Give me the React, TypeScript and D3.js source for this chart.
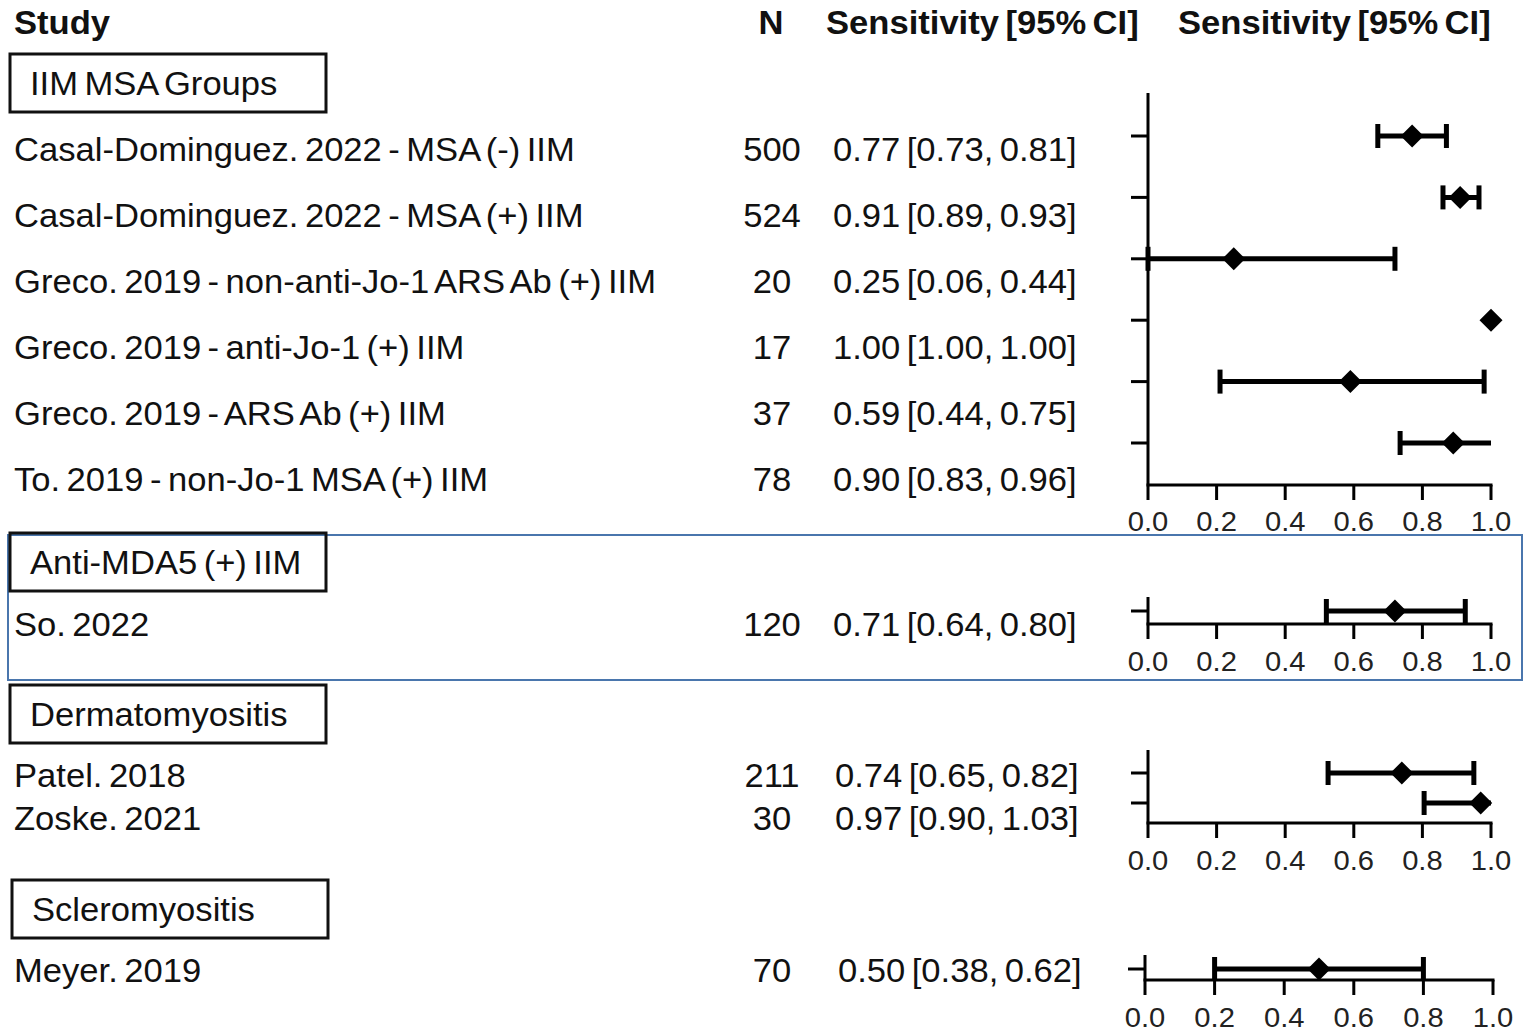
import React from 'react';
import * as d3 from 'd3';

// ---------- data ----------
const groups = ['IIM MSA Groups', 'Anti-MDA5 (+) IIM', 'Dermatomyositis', 'Scleromyositis'];
const studyGroup = [0, 0, 0, 0, 0, 0, 1, 2, 2, 3];
const studies = [
  'Casal-Dominguez. 2022 - MSA (-) IIM',
  'Casal-Dominguez. 2022 - MSA (+) IIM',
  'Greco. 2019 - non-anti-Jo-1 ARS Ab (+) IIM',
  'Greco. 2019 - anti-Jo-1 (+) IIM',
  'Greco. 2019 - ARS Ab (+) IIM',
  'To. 2019 - non-Jo-1 MSA (+) IIM',
  'So. 2022',
  'Patel. 2018',
  'Zoske. 2021',
  'Meyer. 2019',
];
const nValues = ['500', '524', '20', '17', '37', '78', '120', '211', '30', '70'];
const sensEst = ['0.77', '0.91', '0.25', '1.00', '0.59', '0.90', '0.71', '0.74', '0.97', '0.50'];
const sensLo = ['0.73', '0.89', '0.06', '1.00', '0.44', '0.83', '0.64', '0.65', '0.90', '0.38'];
const sensHi = ['0.81', '0.93', '0.44', '1.00', '0.75', '0.96', '0.80', '0.82', '1.03', '0.62'];
// values as drawn in the plot
const plotEst = [0.77, 0.91, 0.25, 1.0, 0.59, 0.89, 0.72, 0.74, 0.97, 0.5];
const plotLo = [0.67, 0.86, 0.0, 1.0, 0.21, 0.735, 0.52, 0.525, 0.805, 0.2];
const plotHi = [0.87, 0.965, 0.72, 1.0, 0.98, 1.05, 0.925, 0.95, 1.05, 0.8];
const xTicks = [0, 0.2, 0.4, 0.6, 0.8, 1.0];

// ---------- layout ----------
const FONT = 'Liberation Sans, Arial, Helvetica, sans-serif';
const SX = 1.048;
const panels = [
  { box: [10, 54], text: [149, 479], plot: [136, 443], axisTop: 93, axisY: 485, xr: [1148, 1491], label: 531, sensX: 833 },
  { box: [10, 533], text: [624, 624], plot: [611, 611], axisTop: 597, axisY: 624, xr: [1148, 1491], label: 671, sensX: 833 },
  { box: [10, 685], text: [775, 818], plot: [773, 803], axisTop: 750, axisY: 823, xr: [1148, 1491], label: 870, sensX: 835 },
  { box: [12, 880], text: [970, 970], plot: [969, 969], axisTop: 955, axisY: 980, xr: [1145, 1493], label: 1027, sensX: 838 },
];

function diamond(cx: number, cy: number, r: number) {
  const p = d3.path();
  p.moveTo(cx, cy - r);
  p.lineTo(cx + r, cy);
  p.lineTo(cx, cy + r);
  p.lineTo(cx - r, cy);
  p.closePath();
  return p.toString();
}

function T(props: { x: number; y: number; bold?: boolean; anchor?: string; children: React.ReactNode }) {
  return (
    <g transform={`translate(${props.x},${props.y}) scale(${SX},1)`}>
      <text x={0} y={0} fontSize={33} wordSpacing={-3} fill="#111"
        fontWeight={props.bold ? 'bold' : 'normal'} textAnchor={props.anchor || 'start'}>
        {props.children}
      </text>
    </g>
  );
}

export default function App() {
  const idx = studies.map((_, i) => i);
  return (
    <svg width={1536} height={1033} style={{ position: 'absolute', left: 0, top: 0, display: 'block', background: '#fff' }}
      fontFamily={FONT}>
      {/* headers */}
      <T x={14} y={34} bold>Study</T>
      <T x={771} y={34} bold anchor="middle">N</T>
      <T x={826} y={34} bold>Sensitivity [95% CI]</T>
      <T x={1178} y={34} bold>Sensitivity [95% CI]</T>

      {/* highlight box */}
      <rect x={8} y={535} width={1514} height={145} fill="none" stroke="#4a76ad" strokeWidth={2} />

      {panels.map((pn, g) => {
        const rows = idx.filter((i) => studyGroup[i] === g);
        const yText = d3.scalePoint<number>().domain(rows).range(pn.text as [number, number]).align(0.5);
        const yPlot = d3.scalePoint<number>().domain(rows).range(pn.plot as [number, number]).align(0.5);
        const x = d3.scaleLinear().domain([0, 1]).range(pn.xr as [number, number]);
        const x0 = x(0);
        const x1 = x(1);
        return (
          <g key={g}>
            <rect x={pn.box[0]} y={pn.box[1]} width={316} height={58} fill="none" stroke="#111" strokeWidth={3} />
            <T x={pn.box[0] + 20} y={pn.box[1] + 41}>{groups[g]}</T>
            {rows.map((i) => {
              const ty = (yText(i) as number) + 12;
              return (
                <g key={i}>
                  <T x={14} y={ty}>{studies[i]}</T>
                  <T x={772} y={ty} anchor="middle">{nValues[i]}</T>
                  <T x={pn.sensX} y={ty}>{`${sensEst[i]} [${sensLo[i]}, ${sensHi[i]}]`}</T>
                </g>
              );
            })}
            {/* axes */}
            <line x1={x0} x2={x0} y1={pn.axisTop} y2={pn.axisY} stroke="#000" strokeWidth={3} />
            <line x1={x0 - 1.5} x2={x1 + 1.5} y1={pn.axisY} y2={pn.axisY} stroke="#000" strokeWidth={3} />
            {xTicks.map((t) => (
              <g key={t}>
                <line x1={x(t)} x2={x(t)} y1={pn.axisY} y2={pn.axisY + 15} stroke="#000" strokeWidth={3} />
                <g transform={`translate(${x(t)},${pn.label}) scale(1.08,1)`}>
                  <text x={0} y={0} fontSize={27} fill="#222" textAnchor="middle">{d3.format('.1f')(t)}</text>
                </g>
              </g>
            ))}
            {rows.map((i) => {
              const cy = yPlot(i) as number;
              const lo = Math.max(0, plotLo[i]);
              const hi = Math.min(1, plotHi[i]);
              const clippedHi = plotHi[i] > 1;
              return (
                <g key={i}>
                  <line x1={x0 - 17} x2={x0} y1={cy} y2={cy} stroke="#000" strokeWidth={3} />
                  {hi > lo && (
                    <>
                      <line x1={x(lo)} x2={x(hi)} y1={cy} y2={cy} stroke="#000" strokeWidth={5} />
                      <line x1={x(lo)} x2={x(lo)} y1={cy - 12} y2={cy + 12} stroke="#000" strokeWidth={5} />
                      {!clippedHi && (
                        <line x1={x(hi)} x2={x(hi)} y1={cy - 12} y2={cy + 12} stroke="#000" strokeWidth={5} />
                      )}
                    </>
                  )}
                  <path d={diamond(x(plotEst[i]), cy, 11.5)} fill="#000" />
                </g>
              );
            })}
          </g>
        );
      })}
    </svg>
  );
}
